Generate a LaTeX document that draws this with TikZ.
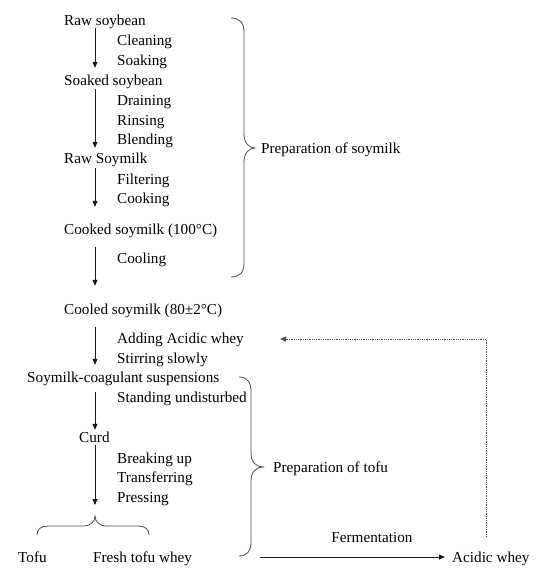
\documentclass[tikz,border=0pt]{standalone}
\usepackage{fontspec}
\setmainfont{Liberation Serif}
\usetikzlibrary{arrows.meta}
\begin{document}
\begin{tikzpicture}[x=1pt,y=-1pt,
  lbl/.style={anchor=west, inner sep=0pt, text height=12pt, text depth=1pt, font=\fontsize{15.2}{18}\selectfont, text=black},
  arr/.style={draw=black!90, line width=0.8pt, -{Triangle[length=6pt,width=5pt]}},
  brc/.style={draw=black!70, line width=0.8pt},
  dotarr/.style={draw=black!70, line width=0.8pt, densely dotted, -{Triangle[length=6pt,width=5pt]}}]
\useasboundingbox (0,0) rectangle (540,573);
\coordinate (ax) at (95,0);
% texts
\node[lbl] (raw) at (64,20) {Raw soybean};
\node[lbl] (cleaning) at (117,40) {Cleaning};
\node[lbl] (soaking) at (117,60) {Soaking};
\node[lbl] (soaked) at (64,80) {Soaked soybean};
\node[lbl] (draining) at (117,100) {Draining};
\node[lbl] (rinsing) at (117,120) {Rinsing};
\node[lbl] (blending) at (117,139) {Blending};
\node[lbl] (rawmilk) at (64,158) {Raw Soymilk};
\node[lbl] (filtering) at (117,179) {Filtering};
\node[lbl] (cooking) at (117,198) {Cooking};
\node[lbl] (cooked) at (64,229) {Cooked soymilk (100°C)};
\node[lbl] (cooling) at (117,258) {Cooling};
\node[lbl] (cooled) at (64,309) {Cooled soymilk (80±2°C)};
\node[lbl] (adding) at (117,338) {Adding Acidic whey};
\node[lbl] (stirring) at (117,358) {Stirring slowly};
\node[lbl] (susp) at (27,377) {Soymilk-coagulant suspensions};
\node[lbl] (standing) at (117,397) {Standing undisturbed};
\node[lbl] (curd) at (79,437) {Curd};
\node[lbl] (breaking) at (117,458) {Breaking up};
\node[lbl] (transferring) at (117,477) {Transferring};
\node[lbl] (pressing) at (117,497) {Pressing};
\node[lbl] (tofu) at (18,557) {Tofu};
\node[lbl] (fresh) at (93,557) {Fresh tofu whey};
\node[lbl] (prepsoy) at (261,148) {Preparation of soymilk};
\node[lbl] (preptofu) at (273,467) {Preparation of tofu};
\node[lbl, anchor=center] (ferment) at (372,537) {Fermentation};
\node[lbl] (acidic) at (452,557) {Acidic whey};
% flow arrows
\draw[arr, shorten <=1.5pt, shorten >=5.5pt] (raw.south -| ax) -- (soaked.north -| ax);
\draw[arr, shorten <=2.5pt, shorten >=3.5pt] (soaked.south -| ax) -- (rawmilk.north -| ax);
\draw[arr, shorten <=3.5pt, shorten >=15.5pt] (rawmilk.south -| ax) -- (cooked.north -| ax);
\draw[arr, shorten <=11.5pt, shorten >=16.5pt] (cooked.south -| ax) -- (cooled.north -| ax);
\draw[arr, shorten <=11.5pt, shorten >=5.5pt] (cooled.south -| ax) -- (susp.north -| ax);
\draw[arr, shorten <=8.5pt, shorten >=0.5pt] (susp.south -| ax) -- (curd.north -| ax);
\coordinate (btip) at (95,516);
\draw[arr, shorten <=1.5pt, shorten >=11pt] (curd.south -| ax) -- (btip);
% braces
\draw[brc] (231,18) .. controls (240,18) and (244,23) .. (244,32) -- (244,134)
  .. controls (244,143) and (249,148) .. (255,148)
  .. controls (249,148) and (244,153) .. (244,162) -- (244,263)
  .. controls (244,272) and (240,277) .. (231,277);
\draw[brc] (239,377) .. controls (247,377) and (251,382) .. (251,391) -- (251,453)
  .. controls (251,462) and (256,467) .. (263,467)
  .. controls (256,467) and (251,472) .. (251,481) -- (251,542)
  .. controls (251,551) and (247,556) .. (239,556);
\draw[brc] (37,535) .. controls (37,529) and (41,526) .. (48,526) -- (84,526)
  .. controls (90,526) and (95,522) .. (btip)
  .. controls (95,522) and (100,526) .. (106,526) -- (138,526)
  .. controls (145,526) and (149,529) .. (149,535);
% fermentation
\coordinate (fs) at (260,557);
\draw[arr, shorten >=7pt] (fs) -- (acidic.west);
% recycle
\coordinate (dc) at (486,339);
\coordinate (de) at (280,339);
\draw[dotarr, shorten <=13.5pt] (acidic.north -| dc) -- (dc) -- (de);
\end{tikzpicture}
\end{document}
